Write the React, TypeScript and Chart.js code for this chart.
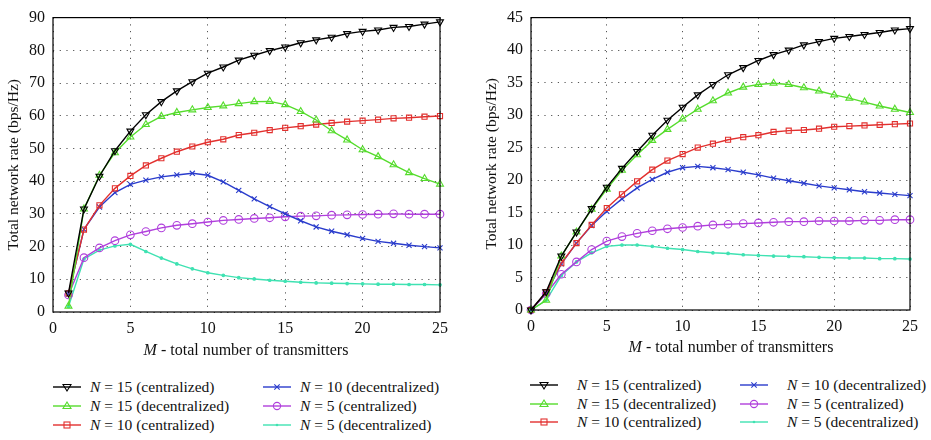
import React, { useEffect, useRef } from "react";
import { Chart, registerables } from "chart.js";
Chart.register(...registerables);

// ---- Data ----
const seriesLabels = [
  "N = 15 (centralized)",
  "N = 15 (decentralized)",
  "N = 10 (centralized)",
  "N = 10 (decentralized)",
  "N = 5 (centralized)",
  "N = 5 (decentralized)",
];

// Left panel: M = 1..25
const leftM = [1, 2, 3, 4, 5, 6, 7, 8, 9, 10, 11, 12, 13, 14, 15, 16, 17, 18, 19, 20, 21, 22, 23, 24, 25];
const leftN15c = [5.8, 31.5, 41.5, 49.3, 55.3, 60.3, 64.3, 67.6, 70.4, 73, 74.9, 77, 78.5, 79.9, 81, 82.3, 83.2, 84, 85.1, 85.8, 86.2, 87, 87.3, 88, 88.7];
const leftN15d = [1.8, 31.5, 41.8, 48.7, 53.5, 57.3, 59.8, 61, 61.8, 62.5, 63, 63.7, 64.3, 64.4, 63.4, 61.3, 58.7, 55.4, 52.6, 49.6, 47.5, 45, 42.6, 40.8, 39.1];
const leftN10c = [5.7, 25.2, 32.6, 37.8, 41.6, 44.8, 47, 49, 50.6, 51.9, 52.8, 54.1, 54.8, 55.6, 56.3, 56.8, 57.3, 57.8, 58.2, 58.5, 58.8, 59.2, 59.4, 59.7, 59.9];
const leftN10d = [5.5, 25.3, 32.1, 36.5, 39, 40.3, 41.3, 41.9, 42.4, 41.8, 39.8, 37.2, 34.6, 32.2, 30, 27.9, 26, 24.7, 23.6, 22.5, 21.6, 21, 20.4, 20, 19.6];
const leftN5c = [5.2, 16.6, 19.6, 21.8, 23.6, 24.6, 25.7, 26.5, 27, 27.5, 28, 28.3, 28.6, 28.8, 29.1, 29.3, 29.4, 29.6, 29.7, 29.8, 29.9, 30, 29.9, 29.9, 29.9];
const leftN5d = [1.7, 16.2, 18.9, 20.2, 20.7, 18.5, 16.5, 14.7, 13.2, 12, 11.2, 10.5, 10.1, 9.7, 9.4, 9.1, 8.9, 8.8, 8.7, 8.6, 8.5, 8.5, 8.4, 8.4, 8.3];

// Right panel: M = 0..25
const rightM = [0, 1, 2, 3, 4, 5, 6, 7, 8, 9, 10, 11, 12, 13, 14, 15, 16, 17, 18, 19, 20, 21, 22, 23, 24, 25];
const rightN15c = [0, 2.8, 8.3, 12, 15.6, 18.9, 21.8, 24.4, 26.9, 29.2, 31.2, 33.1, 34.7, 36.2, 37.3, 38.4, 39.3, 40, 40.8, 41.3, 41.8, 42.1, 42.4, 42.7, 43.1, 43.3];
const rightN15d = [0, 1.5, 8.3, 12, 15.5, 18.6, 21.5, 23.9, 26.1, 27.8, 29.4, 30.9, 32.2, 33.4, 34.3, 34.7, 34.9, 34.7, 34.2, 33.7, 33.1, 32.6, 32, 31.4, 30.9, 30.4];
const rightN10c = [0, 2.7, 7.2, 10.3, 13.1, 15.7, 17.8, 19.8, 21.6, 23, 24, 25, 25.6, 26.2, 26.6, 26.9, 27.4, 27.6, 27.7, 27.9, 28.2, 28.3, 28.4, 28.5, 28.6, 28.7];
const rightN10d = [0, 2.6, 7.1, 10.3, 13, 15.2, 17.1, 18.8, 20.1, 21.2, 21.9, 22.1, 21.9, 21.6, 21.2, 20.8, 20.3, 19.9, 19.5, 19.1, 18.8, 18.5, 18.2, 18, 17.8, 17.6];
const rightN5c = [0, 2.5, 5.5, 7.4, 9.3, 10.6, 11.3, 11.8, 12.2, 12.5, 12.7, 12.9, 13.1, 13.2, 13.3, 13.4, 13.5, 13.6, 13.6, 13.7, 13.7, 13.7, 13.8, 13.8, 13.9, 13.9];
const rightN5d = [0, 1.5, 5.3, 7.4, 8.8, 9.8, 10, 10, 9.8, 9.5, 9.3, 9.0, 8.8, 8.7, 8.5, 8.4, 8.3, 8.25, 8.2, 8.1, 8.05, 8, 8, 7.9, 7.9, 7.85];

const xTitleText = " - total number of transmitters";
const yTitleText = "Total network rate (bps/Hz)";

// ---- Styles ----
const FONT = "'Liberation Serif', 'DejaVu Serif', serif";
const colors = ["#000000", "#55dc2c", "#e2302e", "#2a3ccc", "#b03fdc", "#3fe2b2"];
const pStyles: any[] = ["triangle", "triangle", "rect", "crossRot", "circle", "circle"];
const pRot = [180, 0, 0, 0, 0, 0];
const pRad = [4, 4, 3.6, 3.6, 3.8, 1.3];

const framePlugin = {
  id: "frame",
  afterDraw(chart: any) {
    const { ctx, chartArea: a } = chart;
    ctx.save();
    ctx.strokeStyle = "#000";
    ctx.lineWidth = 1.2;
    ctx.strokeRect(a.left, a.top, a.right - a.left, a.bottom - a.top);
    ctx.restore();
  },
};

type PanelProps = {
  xs: number[];
  series: number[][];
  yMax: number;
  yStep: number;
  width: number;
  height: number;
  pad: { left: number; top: number; right: number; bottom: number };
  titlePad: number;
};

function Panel({ xs, series, yMax, yStep, width, height, pad, titlePad }: PanelProps) {
  const ref = useRef<HTMLCanvasElement | null>(null);
  useEffect(() => {
    if (!ref.current) return;
    const datasets = series.map((ys, i) => ({
      label: seriesLabels[i],
      data: xs.map((x, j) => ({ x, y: ys[j] })),
      borderColor: colors[i],
      backgroundColor: i === 5 ? colors[i] : "rgba(255,255,255,0)",
      borderWidth: 1.4,
      pointStyle: pStyles[i],
      pointRotation: pRot[i],
      pointRadius: pRad[i],
      pointBorderWidth: 1.1,
      pointBorderColor: colors[i],
      pointBackgroundColor: i === 5 ? colors[i] : "rgba(255,255,255,0)",
      tension: 0,
      clip: false as any,
    }));
    const gridCommon = {
      color: "#555",
      lineWidth: 1,
      drawTicks: false,
      borderDash: [1.2, 5.5],
    };
    const chart = new Chart(ref.current, {
      type: "line",
      data: { datasets },
      plugins: [framePlugin],
      options: {
        animation: false,
        responsive: false,
        devicePixelRatio: 1,
        layout: { padding: { left: 0, top: pad.top, right: pad.right, bottom: 0 } },
        plugins: { legend: { display: false }, tooltip: { enabled: false } },
        scales: {
          x: {
            type: "linear",
            min: 0,
            max: 25,
            ticks: { stepSize: 5, color: "#111", font: { family: FONT, size: 16 }, padding: 7, maxRotation: 0 },
            grid: gridCommon as any,
            border: { display: false, dash: [1.2, 5.5] } as any,
            afterFit: (s: any) => {
              s.height = pad.bottom;
            },
          },
          y: {
            type: "linear",
            min: 0,
            max: yMax,
            ticks: { stepSize: yStep, color: "#111", font: { family: FONT, size: 16 }, padding: 8 },
            grid: gridCommon as any,
            border: { display: false, dash: [1.2, 5.5] } as any,
            title: {
              display: true,
              text: yTitleText,
              color: "#111",
              font: { family: FONT, size: 15.5 },
              padding: { top: titlePad, bottom: 0 },
            },
            afterFit: (s: any) => {
              s.width = pad.left;
            },
          },
        },
      },
    });
    return () => chart.destroy();
  }, []);
  return <canvas ref={ref} width={width} height={height} style={{ width, height, display: "block" }} />;
}

function Marker({ i }: { i: number }) {
  const c = colors[i];
  const cx = 14, cy = 6;
  let m: any = null;
  if (i === 0) m = <polygon points={`${cx - 4},${cy - 2.5} ${cx + 4},${cy - 2.5} ${cx},${cy + 4}`} fill="none" stroke={c} strokeWidth={1.1} />;
  if (i === 1) m = <polygon points={`${cx - 4},${cy + 2.5} ${cx + 4},${cy + 2.5} ${cx},${cy - 4}`} fill="none" stroke={c} strokeWidth={1.1} />;
  if (i === 2) m = <rect x={cx - 3} y={cy - 3} width={6} height={6} fill="none" stroke={c} strokeWidth={1.1} />;
  if (i === 3) m = <path d={`M${cx - 2.7} ${cy - 2.7} L${cx + 2.7} ${cy + 2.7} M${cx + 2.7} ${cy - 2.7} L${cx - 2.7} ${cy + 2.7}`} stroke={c} strokeWidth={1.1} />;
  if (i === 4) m = <circle cx={cx} cy={cy} r={3.6} fill="none" stroke={c} strokeWidth={1.1} />;
  if (i === 5) m = <circle cx={cx} cy={cy} r={1.3} fill={c} />;
  return (
    <svg width={28} height={12} style={{ display: "block" }}>
      <line x1={0} y1={cy} x2={28} y2={cy} stroke={c} strokeWidth={1.4} />
      {m}
    </svg>
  );
}

function Legend({ left, top, col2, textGap, rowH }: { left: number; top: number; col2: number; textGap: number; rowH: number }) {
  const order = [0, 1, 2, 3, 4, 5];
  return (
    <>
      {order.map((i) => {
        const col = i < 3 ? 0 : 1;
        const row = i % 3;
        const x = left + col * col2;
        const y = top + row * rowH;
        const lab = seriesLabels[i];
        return (
          <div key={i} style={{ position: "absolute", left: x, top: y, height: 18, display: "flex", alignItems: "center", whiteSpace: "nowrap", fontFamily: FONT, fontSize: 15.5, color: "#111" }}>
            <Marker i={i} />
            <span style={{ marginLeft: textGap }}>
              <i>{lab[0]}</i>
              {lab.slice(1)}
            </span>
          </div>
        );
      })}
    </>
  );
}

function XTitle({ cx, top }: { cx: number; top: number }) {
  return (
    <div style={{ position: "absolute", left: cx - 150, top, width: 300, textAlign: "center", fontFamily: FONT, fontSize: 16, color: "#111", lineHeight: "18px", whiteSpace: "nowrap" }}>
      <i>M</i>
      {xTitleText}
    </div>
  );
}

export default function App() {
  return (
    <div style={{ position: "absolute", left: 0, top: 0, width: 931, height: 440, background: "#fff", overflow: "hidden" }}>
      <div style={{ position: "absolute", left: 0, top: 0 }}>
        <Panel
          xs={leftM}
          series={[leftN15c, leftN15d, leftN10c, leftN10d, leftN5c, leftN5d]}
          yMax={90}
          yStep={10}
          width={470}
          height={365}
          pad={{ left: 53, top: 10, right: 30, bottom: 53 }}
          titlePad={5}
        />
      </div>
      <div style={{ position: "absolute", left: 470, top: 0 }}>
        <Panel
          xs={rightM}
          series={[rightN15c, rightN15d, rightN10c, rightN10d, rightN5c, rightN5d]}
          yMax={45}
          yStep={5}
          width={461}
          height={365}
          pad={{ left: 61, top: 13, right: 21, bottom: 55 }}
          titlePad={13}
        />
      </div>
      <XTitle cx={246} top={341} />
      <XTitle cx={731} top={338} />
      <Legend left={53} top={378} col2={210} textGap={9} rowH={19} />
      <Legend left={530} top={376} col2={210} textGap={19} rowH={18.5} />
    </div>
  );
}
